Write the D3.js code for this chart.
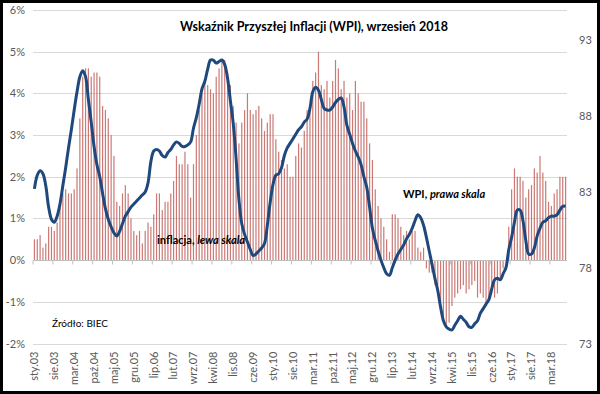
<!DOCTYPE html>
<html>
<head>
<meta charset="utf-8">
<script src="https://cdn.jsdelivr.net/npm/d3@7"></script>
<style>
  body { margin: 0; background: #fff; }
  svg { display: block; }
</style>
</head>
<body>
<svg id="chart" width="600" height="394"></svg>
<script>
const MONTHS = ["sty", "lut", "mar", "kwi", "maj", "cze", "lip", "sie", "wrz", "paź", "lis", "gru"]
const FIRST_YEAR = 2003

// CPI y/y, % (left axis), sty.03 .. sie.18
const inflation = [
    0.5, 0.5, 0.6, 0.3, 0.4, 0.8, 0.8, 0.7, 0.9, 1.3, 1.6, 1.7,
    1.6, 1.6, 1.7, 2.2, 3.4, 4.4, 4.6, 4.6, 4.4, 4.5, 4.5, 4.4,
    3.7, 3.6, 3.4, 3.0, 2.5, 1.4, 1.3, 1.6, 1.8, 1.6, 1.0, 0.7,
    0.6, 0.7, 0.4, 0.7, 0.9, 0.8, 1.1, 1.6, 1.6, 1.2, 1.4, 1.4,
    1.6, 1.9, 2.5, 2.3, 2.3, 2.6, 2.3, 1.5, 2.3, 3.0, 3.6, 4.0,
    4.3, 4.2, 4.1, 4.0, 4.4, 4.6, 4.8, 4.8, 4.5, 4.2, 3.7, 3.3,
    2.8, 3.3, 3.6, 4.0, 3.6, 3.5, 3.6, 3.7, 3.4, 3.1, 3.3, 3.5,
    3.5, 2.9, 2.6, 2.4, 2.2, 2.3, 2.0, 2.0, 2.5, 2.8, 2.7, 3.1,
    3.6, 3.6, 4.3, 4.5, 5.0, 4.2, 4.1, 4.3, 3.9, 4.3, 4.8, 4.6,
    4.1, 4.3, 3.9, 4.0, 3.6, 4.3, 4.0, 3.8, 3.8, 3.4, 2.8, 2.4,
    1.7, 1.3, 1.0, 0.8, 0.5, 0.2, 1.1, 1.1, 1.0, 0.8, 0.6, 0.7,
    0.5, 0.7, 0.7, 0.3, 0.2, 0.3, -0.2, -0.3, -0.3, -0.6, -0.6, -1.0,
    -1.4, -1.6, -1.5, -1.1, -0.9, -0.8, -0.7, -0.6, -0.8, -0.7, -0.6, -0.5,
    -0.9, -0.8, -0.9, -1.1, -0.9, -0.8, -0.9, -0.8, -0.5, -0.2, 0.0, 0.8,
    1.7, 2.2, 2.0, 2.0, 1.9, 1.5, 1.7, 1.8, 2.2, 2.1, 2.5, 2.1,
    1.9, 1.4, 1.3, 1.6, 1.7, 2.0, 2.0, 2.0
]

// WPI index (right axis)
const wpi = [
    83.2, 84.1, 84.4, 84.2, 83.4, 82.0, 81.2, 81.0, 81.4, 82.2, 83.4, 84.6,
    85.9, 87.1, 88.4, 89.6, 90.6, 91.0, 90.6, 89.1, 87.6, 86.0, 84.8, 84.0,
    82.9, 81.9, 81.2, 80.7, 80.3, 80.1, 80.4, 80.9, 81.4, 81.7, 82.0, 82.2,
    82.4, 82.6, 82.8, 83.0, 83.6, 85.0, 85.7, 85.8, 85.7, 85.4, 85.3, 85.6,
    85.8, 86.1, 86.3, 86.2, 86.0, 86.0, 86.1, 86.3, 87.2, 87.9, 88.8, 89.8,
    90.3, 91.1, 91.7, 91.7, 91.5, 91.6, 91.7, 91.4, 90.5, 89.0, 87.5, 85.2,
    82.5, 80.9, 80.2, 79.7, 79.2, 78.8, 78.9, 79.1, 79.3, 79.6, 80.8, 82.3,
    83.5, 84.1, 84.2, 84.6, 85.4, 85.9, 86.2, 86.5, 86.8, 87.1, 87.3, 87.6,
    87.8, 88.5, 89.6, 89.9, 89.7, 89.1, 88.5, 88.4, 88.4, 88.6, 88.9, 89.1,
    89.2, 88.6, 87.4, 86.8, 86.2, 85.7, 85.3, 84.8, 84.0, 83.3, 82.0, 80.6,
    79.8, 79.1, 78.5, 78.0, 77.6, 77.5, 78.0, 78.5, 78.9, 79.2, 79.5, 79.9,
    80.2, 80.6, 81.1, 81.5, 81.3, 80.8, 80.0, 79.1, 78.2, 77.3, 76.5, 75.4,
    74.5, 74.1, 73.95, 73.9, 74.2, 74.5, 74.8, 74.6, 74.4, 74.1, 74.06, 74.3,
    74.5, 75.0, 75.3, 75.6, 75.9, 76.6, 77.2, 77.3, 77.2, 77.6, 78.0, 79.2,
    80.0, 81.0, 81.8, 81.8, 81.1, 79.8, 78.9, 78.9, 79.3, 80.1, 80.6, 81.0,
    81.1, 81.3, 81.4, 81.4, 81.5, 81.8, 82.05, 82.05
]

const leftTicks = [-2, -1, 0, 1, 2, 3, 4, 5, 6]
const rightTicks = [73, 78, 83, 88, 93]
const LABEL_EVERY = 7

const TITLE = "Wskaźnik Przyszłej Inflacji (WPI), wrzesień 2018"
const SOURCE = "Źródło: BIEC"

const categories = inflation.map((d, i) =>
    MONTHS[i % 12] + "." + String((FIRST_YEAR + Math.floor(i / 12)) % 100).padStart(2, "0"))

const W = 600, H = 394
const margins = { top: 10, bottom: 50.5, left: 33, right: 33 }
const FONT = "Lato, 'Liberation Sans', sans-serif"
const GREY_TEXT = "#595959"

const svg = d3.select("#chart")

svg.append("rect")
    .attr("x", 0).attr("y", 0)
    .attr("width", W).attr("height", H)
    .attr("fill", "#fff")

const x = d3.scaleBand()
    .domain(categories)
    .range([margins.left, W - margins.right])

const yLeft = d3.scaleLinear()
    .domain([-2, 6])
    .range([H - margins.bottom, margins.top])

const yRight = d3.scaleLinear()
    .domain([73, 95])
    .range([H - margins.bottom, margins.top])

// gridlines
svg.append("g")
    .selectAll("line")
    .data(leftTicks)
    .enter()
    .append("line")
    .attr("x1", margins.left)
    .attr("x2", W - margins.right)
    .attr("y1", d => Math.round(yLeft(d)) + 0.5)
    .attr("y2", d => Math.round(yLeft(d)) + 0.5)
    .attr("stroke", "#d9d9d9")
    .attr("stroke-width", 1)

// left axis
svg.append("g")
    .attr("transform", "translate(" + margins.left + ",0)")
    .call(d3.axisLeft(yLeft).tickValues(leftTicks).tickSize(0).tickPadding(8)
        .tickFormat(d => d + "%"))
    .call(g => g.select(".domain").remove())
    .selectAll("text")
    .attr("font-family", FONT)
    .attr("font-size", "11px")
    .attr("fill", GREY_TEXT)

// right axis
svg.append("g")
    .attr("transform", "translate(" + (W - margins.right) + ",0)")
    .call(d3.axisRight(yRight).tickValues(rightTicks).tickSize(0).tickPadding(12))
    .call(g => g.select(".domain").remove())
    .selectAll("text")
    .attr("font-family", FONT)
    .attr("font-size", "11px")
    .attr("fill", GREY_TEXT)

// inflation bars
const barW = x.bandwidth() * 0.42
svg.append("g")
    .selectAll("rect")
    .data(inflation)
    .enter()
    .append("rect")
    .attr("x", (d, i) => x(categories[i]) + (x.bandwidth() - barW) / 2)
    .attr("y", d => Math.min(yLeft(d), yLeft(0)))
    .attr("width", barW)
    .attr("height", d => Math.abs(yLeft(d) - yLeft(0)))
    .attr("fill", "#bd5752")
    .attr("opacity", 0.8)

// zero axis line with tick marks every 7 months
const zeroY = Math.round(yLeft(0)) + 0.5
svg.append("line")
    .attr("x1", margins.left)
    .attr("x2", W - margins.right)
    .attr("y1", zeroY)
    .attr("y2", zeroY)
    .attr("stroke", "#bfbfbf")

const tickCats = categories.filter((c, i) => i % LABEL_EVERY === 0)
svg.append("g")
    .selectAll("line")
    .data(tickCats)
    .enter()
    .append("line")
    .attr("x1", d => x(d))
    .attr("x2", d => x(d))
    .attr("y1", zeroY)
    .attr("y2", zeroY + 4)
    .attr("stroke", "#bfbfbf")

// x labels
svg.append("g")
    .selectAll("text")
    .data(tickCats)
    .enter()
    .append("text")
    .attr("transform", d => "translate(" + (x(d) + x.bandwidth() / 2) + "," + (H - margins.bottom + 8) + ") rotate(-90)")
    .attr("text-anchor", "end")
    .attr("dy", "0.35em")
    .attr("font-family", FONT)
    .attr("font-size", "11px")
    .attr("fill", GREY_TEXT)
    .text(d => d)

// WPI line
const line = d3.line()
    .x((d, i) => x(categories[i]) + x.bandwidth() / 2)
    .y(d => yRight(d))
    .curve(d3.curveCatmullRom.alpha(0.5))

svg.append("path")
    .datum(wpi)
    .attr("d", line)
    .attr("fill", "none")
    .attr("stroke", "#1f497d")
    .attr("stroke-width", 3)
    .attr("stroke-linejoin", "round")

// title
svg.append("text")
    .attr("x", 314)
    .attr("y", 31)
    .attr("text-anchor", "middle")
    .attr("font-family", FONT)
    .attr("font-weight", "700")
    .attr("font-size", "12.5px")
    .attr("fill", "#000")
    .text(TITLE)

// series annotations
const lab1 = svg.append("text")
    .attr("x", 157)
    .attr("y", 244)
    .attr("font-family", FONT)
    .attr("font-weight", "700")
    .attr("font-size", "11px")
    .attr("fill", "#000")
lab1.append("tspan").text("inflacja, ")
lab1.append("tspan").attr("font-style", "italic").text("lewa skala")

const lab2 = svg.append("text")
    .attr("x", 403)
    .attr("y", 198)
    .attr("font-family", FONT)
    .attr("font-weight", "700")
    .attr("font-size", "11px")
    .attr("fill", "#000")
lab2.append("tspan").text("WPI, ")
lab2.append("tspan").attr("font-style", "italic").text("prawa skala")

svg.append("text")
    .attr("x", 52)
    .attr("y", 327)
    .attr("font-family", FONT)
    .attr("font-size", "10px")
    .attr("fill", "#000")
    .text(SOURCE)

// frame
svg.append("rect")
    .attr("x", 1.5).attr("y", 1.5)
    .attr("width", W - 3).attr("height", H - 3)
    .attr("fill", "none")
    .attr("stroke", "#000")
    .attr("stroke-width", 3)
</script>
</body>
</html>
